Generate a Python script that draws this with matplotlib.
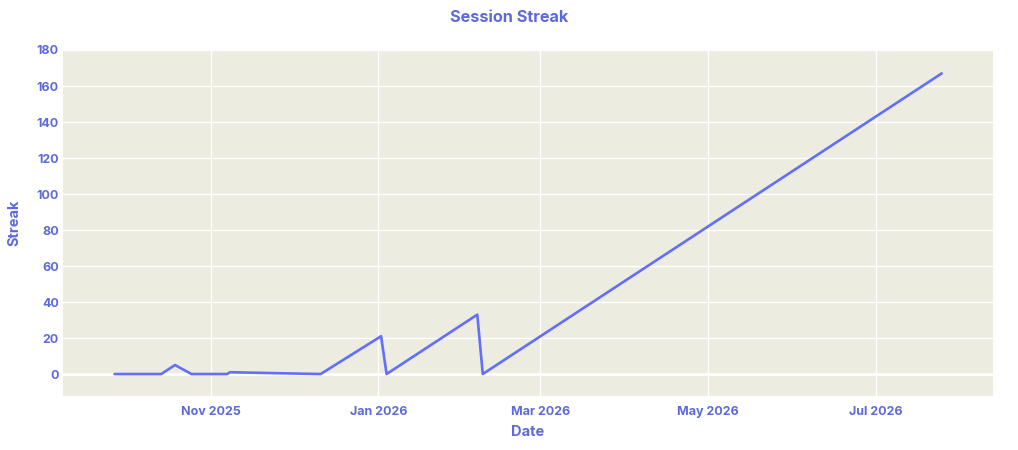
import numpy as np
import matplotlib
matplotlib.use("Agg")
import matplotlib.pyplot as plt
import matplotlib.dates as mdates
from datetime import datetime

# session streak samples
dates = ["2025-09-27", "2025-10-14", "2025-10-19", "2025-10-25", "2025-11-07",
         "2025-11-08", "2025-12-11", "2026-01-02", "2026-01-04", "2026-02-06",
         "2026-02-08", "2026-07-25"]
streak = [0, 0, 5, 0, 0, 1, 0, 21, 0, 33, 0, 167]

tick_dates = ["2025-11-01", "2026-01-01", "2026-03-01", "2026-05-01", "2026-07-01"]
tick_labels = ["Nov 2025", "Jan 2026", "Mar 2026", "May 2026", "Jul 2026"]
y_ticks = [0, 20, 40, 60, 80, 100, 120, 140, 160, 180]

LINE = "#636EFA"
TEXT = "#5D69DC"
BG = "#ECECE0"


def to_num(ds):
    return mdates.date2num([datetime.strptime(d, "%Y-%m-%d") for d in ds])


def main():
    plt.rcParams["font.family"] = ["Inter", "DejaVu Sans"]

    fig = plt.figure(figsize=(10.18, 4.5), dpi=100)
    ax = fig.add_axes([63 / 1018, 1 - 396 / 450, 930 / 1018, 346 / 450])
    ax.set_facecolor(BG)

    x0 = mdates.date2num(datetime(2025, 9, 8, 6))
    x1 = mdates.date2num(datetime(2026, 8, 12, 16))
    ax.set_xlim(x0, x1)
    ax.set_ylim(-12.2, 180)

    for s in ax.spines.values():
        s.set_visible(False)

    ax.set_xticks(to_num(tick_dates))
    ax.set_xticklabels(tick_labels)
    ax.set_yticks(y_ticks)
    ax.tick_params(axis="both", length=0, labelsize=9, labelcolor=TEXT)
    ax.tick_params(axis="x", pad=7)
    ax.tick_params(axis="y", pad=3)
    for lab in ax.get_xticklabels() + ax.get_yticklabels():
        lab.set_fontweight("bold")

    ax.grid(True, color="white", linewidth=1)
    ax.axhline(0, color="white", linewidth=2, zorder=1)
    ax.set_axisbelow(True)

    ax.plot(to_num(dates), streak, color=LINE, linewidth=1.9,
            solid_joinstyle="round", solid_capstyle="round", zorder=3)

    fig.text(509 / 1018, 1 - 18 / 450, "Session Streak", ha="center", va="center",
             fontsize=11.7, fontweight="bold", color=TEXT)
    fig.text(528 / 1018, 1 - 432 / 450, "Date", ha="center", va="center",
             fontsize=10.5, fontweight="bold", color=TEXT)
    fig.text(14 / 1018, 1 - 223 / 450, "Streak", ha="center", va="center",
             rotation=90, fontsize=10.5, fontweight="bold", color=TEXT)

    fig.savefig("out.png", dpi=100, facecolor="white")
    plt.close(fig)


if __name__ == "__main__":
    main()
